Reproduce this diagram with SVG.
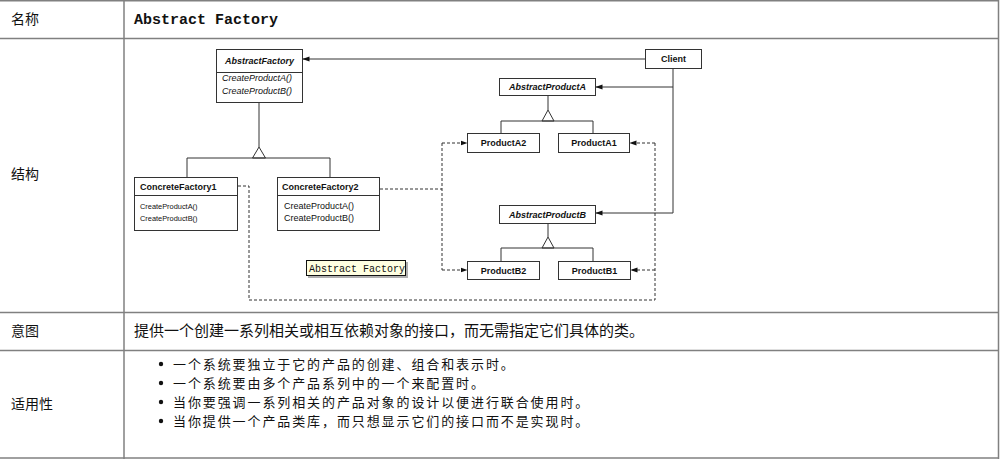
<svg xmlns="http://www.w3.org/2000/svg" width="1001" height="459" viewBox="0 0 1001 459">
<style>
.grid{stroke:#808080;stroke-width:1.5;fill:none}
.cn{font-family:"Noto Sans CJK SC","Liberation Sans",sans-serif;font-size:14px;fill:#111}
.cn15{font-family:"Noto Sans CJK SC","Liberation Sans",sans-serif;font-size:15px;fill:#111}
.bl{font-family:"Noto Sans CJK SC","Liberation Sans",sans-serif;font-size:13px;letter-spacing:1.9px;fill:#111}
.mono{font-family:"Liberation Mono",monospace;fill:#111}
.box{fill:#fff;stroke:#333;stroke-width:1}
.nm{font-family:"Liberation Sans",Arial,sans-serif;font-size:9px;font-weight:bold;fill:#111}
.it{font-style:italic}
.md{font-family:"Liberation Sans",Arial,sans-serif;font-size:9px;fill:#111}
.md7{font-family:"Liberation Sans",Arial,sans-serif;font-size:7.4px;fill:#111}
.ln{stroke:#333;stroke-width:1;fill:none}
.dl{stroke:#333;stroke-width:1;fill:none;stroke-dasharray:3,2}
.tri{fill:#fff;stroke:#333;stroke-width:1}
</style>
<defs>
<marker id="ah" markerWidth="7" markerHeight="6" refX="6.5" refY="3" orient="auto" markerUnits="userSpaceOnUse">
<path d="M0,0.5 L7,3 L0,5.5 Z" fill="#111"/>
</marker>
</defs>
<rect width="1001" height="459" fill="#fff"/>
<g id="table">
<line class="grid" x1="0" y1="0.75" x2="999" y2="0.75"/>
<line class="grid" x1="0" y1="38.5" x2="999" y2="38.5"/>
<line class="grid" x1="0" y1="312.5" x2="999" y2="312.5"/>
<line class="grid" x1="0" y1="350.5" x2="999" y2="350.5"/>
<line class="grid" x1="0" y1="458" x2="999" y2="458"/>
<line class="grid" x1="124" y1="0" x2="124" y2="459"/>
<line class="grid" x1="998.5" y1="0" x2="998.5" y2="459"/>
<text class="cn" x="11" y="24">名称</text>
<text class="mono" x="134" y="24" font-size="15" font-weight="bold">Abstract Factory</text>
<text class="cn" x="11" y="179">结构</text>
<text class="cn" x="11" y="336">意图</text>
<text class="cn15" x="134" y="336">提供一个创建一系列相关或相互依赖对象的接口，而无需指定它们具体的类。</text>
<text class="cn" x="11" y="409">适用性</text>
<g id="bullets">
<circle cx="161" cy="364" r="2.2" fill="#111"/>
<circle cx="161" cy="383" r="2.2" fill="#111"/>
<circle cx="161" cy="402" r="2.2" fill="#111"/>
<circle cx="161" cy="421" r="2.2" fill="#111"/>
<text class="bl"><tspan x="173" y="368.5">一个系统要独立于它的产品的创建、组合和表示时。</tspan><tspan x="173" y="387.5">一个系统要由多个产品系列中的一个来配置时。</tspan><tspan x="173" y="406.5">当你要强调一系列相关的产品对象的设计以便进行联合使用时。</tspan><tspan x="173" y="425.5">当你提供一个产品类库，而只想显示它们的接口而不是实现时。</tspan></text>
</g>
</g>
<g id="connectors">
<polyline class="ln" points="259,102 259,147"/>
<polygon class="tri" points="259,147 252.5,158 265.5,158"/>
<polyline class="ln" points="187,177 187,158 330,158 330,177"/>
<line class="ln" x1="645" y1="59" x2="303" y2="59" marker-end="url(#ah)"/>
<line class="ln" x1="673" y1="68" x2="673" y2="213"/>
<line class="ln" x1="673" y1="87" x2="596" y2="87" marker-end="url(#ah)"/>
<line class="ln" x1="673" y1="213" x2="596" y2="213" marker-end="url(#ah)"/>
<line class="ln" x1="548" y1="95" x2="548" y2="110"/>
<polygon class="tri" points="548,110 542,121 554,121"/>
<polyline class="ln" points="501,133 501,121 593,121 593,133"/>
<line class="ln" x1="548" y1="223" x2="548" y2="237"/>
<polygon class="tri" points="548,237 542,248 554,248"/>
<polyline class="ln" points="501,262 501,248 593,248 593,262"/>
<polyline class="dl" points="238,186 249,186 249,300 655,300 655,143"/>
<line class="dl" x1="655" y1="143" x2="630" y2="143" marker-end="url(#ah)"/>
<line class="dl" x1="655" y1="270" x2="631" y2="270" marker-end="url(#ah)"/>
<line class="dl" x1="380" y1="189" x2="442" y2="189"/>
<line class="dl" x1="442" y1="143" x2="442" y2="270"/>
<line class="dl" x1="442" y1="143" x2="467" y2="143" marker-end="url(#ah)"/>
<line class="dl" x1="442" y1="270" x2="467" y2="270" marker-end="url(#ah)"/>
</g>
<g id="AbstractFactory">
<rect class="box" x="216.5" y="49.5" width="86" height="53"/>
<line class="ln" x1="216.5" y1="72.5" x2="302.5" y2="72.5"/>
<text class="nm it" x="259.5" y="64" text-anchor="middle">AbstractFactory</text>
<text class="md it" x="222" y="81">CreateProductA()</text>
<text class="md it" x="222" y="94">CreateProductB()</text>
</g>
<g id="ConcreteFactory1">
<rect class="box" x="134.5" y="177.5" width="103" height="53"/>
<line class="ln" x1="134.5" y1="195.5" x2="237.5" y2="195.5"/>
<text class="nm" x="140" y="189.5">ConcreteFactory1</text>
<text class="md7" x="140" y="209">CreateProductA()</text>
<text class="md7" x="140" y="221">CreateProductB()</text>
</g>
<g id="ConcreteFactory2">
<rect class="box" x="277.5" y="177.5" width="102" height="53"/>
<line class="ln" x1="277.5" y1="195.5" x2="379.5" y2="195.5"/>
<text class="nm" x="282" y="189.5">ConcreteFactory2</text>
<text class="md" x="284" y="209">CreateProductA()</text>
<text class="md" x="284" y="221">CreateProductB()</text>
</g>
<g id="Client">
<rect class="box" x="645.5" y="49.5" width="56" height="19"/>
<text class="nm" x="673.5" y="62" text-anchor="middle">Client</text>
</g>
<g id="AbstractProductA">
<rect class="box" x="499.5" y="78.5" width="96" height="17"/>
<text class="nm it" x="547.5" y="90" text-anchor="middle">AbstractProductA</text>
</g>
<g id="ProductA2">
<rect class="box" x="467.5" y="133.5" width="72" height="19"/>
<text class="nm" x="503.5" y="146" text-anchor="middle">ProductA2</text>
</g>
<g id="ProductA1">
<rect class="box" x="558.5" y="133.5" width="71" height="19"/>
<text class="nm" x="594" y="146" text-anchor="middle">ProductA1</text>
</g>
<g id="AbstractProductB">
<rect class="box" x="499.5" y="205.5" width="96" height="18"/>
<text class="nm it" x="547.5" y="217.5" text-anchor="middle">AbstractProductB</text>
</g>
<g id="ProductB2">
<rect class="box" x="467.5" y="261.5" width="72" height="18"/>
<text class="nm" x="503.5" y="273.5" text-anchor="middle">ProductB2</text>
</g>
<g id="ProductB1">
<rect class="box" x="558.5" y="261.5" width="72" height="18"/>
<text class="nm" x="594.5" y="273.5" text-anchor="middle">ProductB1</text>
</g>
<g id="tooltip">
<rect x="308" y="262" width="100" height="16" fill="#b0b0b0"/>
<rect x="306.5" y="260.5" width="99" height="15" fill="#ffffe1" stroke="#111"/>
<text class="mono" x="309" y="271.5" font-size="10">Abstract Factory</text>
</g>
</svg>
